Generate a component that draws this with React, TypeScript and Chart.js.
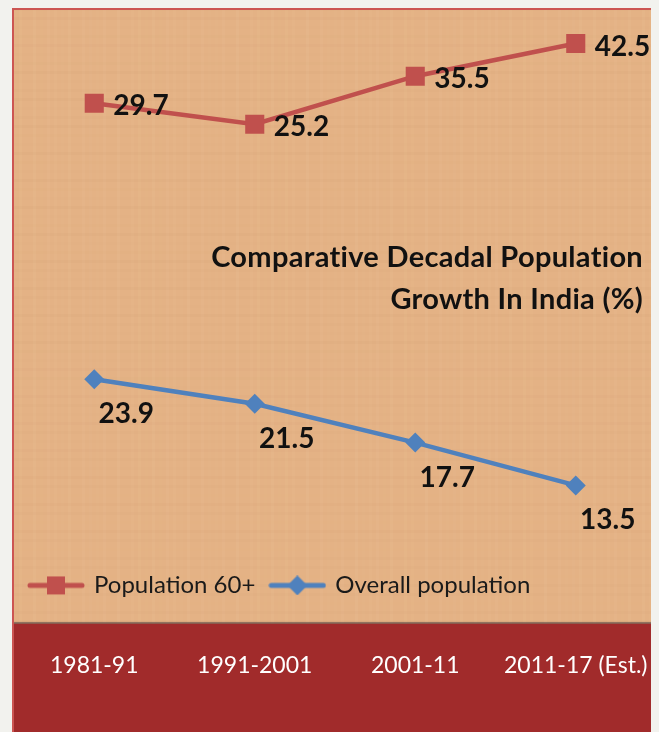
import React, { useEffect, useRef } from "react";
import { Chart, registerables } from "chart.js";

Chart.register(...registerables);

const categories = ["1981-91", "1991-2001", "2001-11", "2011-17 (Est.)"];
const pop60 = [29.7, 25.2, 35.5, 42.5];
const overall = [23.9, 21.5, 17.7, 13.5];
const seriesNames = ["Population 60+", "Overall population"];
const titleLines = ["Comparative Decadal Population", "Growth In India (%)"];

const RED = "#c0504d";
const BLUE = "#4f81bd";
const TAN = "#e4b285";
const BAND = "#a12b2b";
const FONT = "Lato, 'Open Sans', sans-serif";

function makeMarker(color: string, shape: "square" | "diamond") {
  const c = document.createElement("canvas");
  c.width = 58;
  c.height = 20;
  const ctx = c.getContext("2d")!;
  ctx.strokeStyle = color;
  ctx.lineWidth = 5;
  ctx.lineCap = "round";
  ctx.beginPath();
  ctx.moveTo(3, 10);
  ctx.lineTo(55, 10);
  ctx.stroke();
  ctx.fillStyle = color;
  if (shape === "square") {
    ctx.fillRect(20, 1, 18, 18);
  } else {
    ctx.beginPath();
    ctx.moveTo(29, 0);
    ctx.lineTo(39, 10);
    ctx.lineTo(29, 20);
    ctx.lineTo(19, 10);
    ctx.closePath();
    ctx.fill();
  }
  return c;
}

const BAND_OFFSET = 16;

const decorPlugin = {
  id: "decor",
  beforeDraw(chart: any) {
    const { ctx, width, height } = chart;
    const x = chart.scales.x;
    const bandTop = x.top + BAND_OFFSET;
    ctx.save();
    ctx.fillStyle = TAN;
    ctx.fillRect(0, 0, width, height);
    for (let i = 0; i < width; i += 7) {
      const a = 0.04 + 0.03 * Math.sin(i * 0.37);
      ctx.fillStyle = `rgba(255,230,190,${a})`;
      ctx.fillRect(i, 0, 3, height);
    }
    for (let j = 0; j < height; j += 9) {
      const a = 0.03 + 0.025 * Math.sin(j * 0.23);
      ctx.fillStyle = `rgba(190,130,90,${a})`;
      ctx.fillRect(0, j, width, 3);
    }
    ctx.fillStyle = BAND;
    ctx.fillRect(0, bandTop, width, height - bandTop);
    ctx.fillStyle = "rgba(110,90,80,0.7)";
    ctx.fillRect(0, bandTop - 1.5, width, 2);
    ctx.strokeStyle = "#cc5552";
    ctx.lineWidth = 2;
    ctx.strokeRect(1, 1, width - 2, height + 10);
    ctx.restore();
  },
  afterDatasetsDraw(chart: any) {
    const { ctx } = chart;
    ctx.save();
    ctx.fillStyle = "#111";
    ctx.font = `bold 28px ${FONT}`;
    ctx.textBaseline = "middle";
    const m0 = chart.getDatasetMeta(0);
    ctx.textAlign = "left";
    m0.data.forEach((p: any, i: number) => {
      ctx.fillText(pop60[i].toFixed(1), p.x + 19, p.y + 3);
    });
    const m1 = chart.getDatasetMeta(1);
    ctx.textAlign = "center";
    m1.data.forEach((p: any, i: number) => {
      ctx.fillText(overall[i].toFixed(1), p.x + 32, p.y + 35);
    });
    ctx.font = `bold 29px ${FONT}`;
    (ctx as any).letterSpacing = "0.3px";
    ctx.textAlign = "right";
    titleLines.forEach((t, i) => ctx.fillText(t, 631, 250 + i * 42));
    (ctx as any).letterSpacing = "0px";
    ctx.restore();
  },
};

export default function App() {
  const ref = useRef<HTMLCanvasElement>(null);
  useEffect(() => {
    document.body.style.background = "#f2f2ee";
    const redMarker = makeMarker(RED, "square");
    const blueMarker = makeMarker(BLUE, "diamond");
    const chart = new Chart(ref.current!, {
      type: "line",
      data: {
        labels: categories,
        datasets: [
          {
            label: seriesNames[0],
            data: pop60,
            borderColor: RED,
            backgroundColor: RED,
            borderWidth: 4.5,
            pointStyle: "rect",
            pointRadius: 13.5,
            pointBorderWidth: 0,
            yAxisID: "y2",
          },
          {
            label: seriesNames[1],
            data: overall,
            borderColor: BLUE,
            backgroundColor: BLUE,
            borderWidth: 4.5,
            pointStyle: "rectRot",
            pointRadius: 10,
            pointBorderWidth: 0,
            yAxisID: "y",
          },
        ],
      },
      options: {
        responsive: false,
        animation: false,
        layout: { autoPadding: false, padding: { top: 10, left: 2, right: 0, bottom: 17 } },
        scales: {
          x: {
            offset: true,
            grid: { display: false },
            border: { display: false },
            ticks: {
              color: "#ffffff",
              font: { family: FONT, size: 23 },
              padding: 36,
              maxRotation: 0,
              autoSkip: false,
            },
            afterFit: (s: any) => {
              s.paddingLeft = 0;
              s.paddingRight = 0;
            },
          },
          y: { display: false, min: 6.45, max: 59.29 },
          y2: { display: false, min: -67.69, max: 47.98 },
        },
        plugins: {
          tooltip: { enabled: false },
          legend: {
            position: "bottom",
            align: "start",
            fullSize: false,
            weight: -1,
            labels: {
              usePointStyle: true,
              pointStyleWidth: 52,
              color: "#1a1a1a",
              font: { family: FONT, size: 24 },
              padding: 16,
              generateLabels: (ch: any) =>
                Chart.defaults.plugins.legend.labels
                  .generateLabels(ch)
                  .map((l: any, i: number) => ({ ...l, pointStyle: i === 0 ? redMarker : blueMarker })),
            },
          } as any,
        },
      },
      plugins: [decorPlugin],
    });
    return () => chart.destroy();
  }, []);
  return (
    <div style={{ marginLeft: 4, width: 644, height: 724 }}>
      <canvas ref={ref} width={644} height={724} />
    </div>
  );
}
